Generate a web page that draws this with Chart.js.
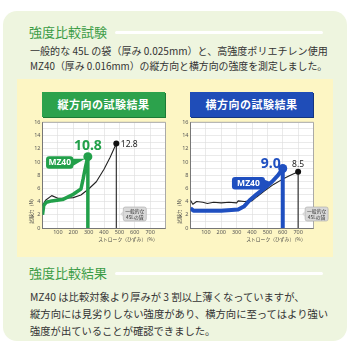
<!DOCTYPE html>
<html lang="ja">
<head>
<meta charset="utf-8">
<script src="https://cdn.jsdelivr.net/npm/chart.js@4"></script>
<style>
  html, body { margin: 0; padding: 0; width: 350px; height: 350px; overflow: hidden; background: #fff;
    font-family: "Noto Sans CJK JP", sans-serif; }
  .abs { position: absolute; }
  #panel { left: 3px; top: 11px; width: 344px; height: 330px; background: #eef5df; border-radius: 14px; }
  .ttl { color: #3b9c46; font-size: 13px; line-height: 16px; height: 16px; white-space: nowrap; left: 29px; }
  .rule { height: 3px; background: #fff; border-radius: 2px; left: 115px; width: 208px; }
  .txt { color: #333; white-space: nowrap; left: 30px; line-height: 14px; height: 14px; }
  .p1 { font-size: 10.6px; }
  .p2 { font-size: 10.3px; }
  #yellow { left: 17px; top: 79px; width: 316px; height: 178px; background: #fdf6c4; }
  .head { top: 92px; width: 123px; height: 25px; line-height: 25px; color: #fff; font-weight: bold;
    font-size: 11px; text-align: center; letter-spacing: 0.5px; }
  #headL { left: 42px; background: #2ca24c; box-shadow: 1px 1px 0 #1c7a35; }
  #headR { left: 190px; background: #1f4db8; box-shadow: 1px 1px 0 #14357f; }
  canvas { position: absolute; top: 117px; }
</style>
</head>
<body>
<div id="panel" class="abs"></div>
<div class="abs ttl" style="top:24px">強度比較試験</div>
<div class="abs rule" style="top:31px"></div>
<div class="abs txt p1" data-w="298" style="top:44px">一般的な 45L の袋（厚み 0.025mm）と、高強度ポリエチレン使用</div>
<div class="abs txt p1" data-w="298" style="top:59px">MZ40（厚み 0.016mm）の縦方向と横方向の強度を測定しました。</div>

<div id="yellow" class="abs"></div>
<div id="headL" class="abs head">縦方向の試験結果</div>
<div id="headR" class="abs head">横方向の試験結果</div>
<canvas id="chartL" width="165" height="130" style="left:20px"></canvas>
<canvas id="chartR" width="165" height="130" style="left:168px"></canvas>

<div class="abs ttl" style="top:265px">強度比較結果</div>
<div class="abs rule" style="top:272px"></div>
<div class="abs txt p2" style="top:290px">MZ40 は比較対象より厚みが 3 割以上薄くなっていますが、</div>
<div class="abs txt p2" data-w="298" style="top:307px">縦方向には見劣りしない強度があり、横方向に至ってはより強い</div>
<div class="abs txt p2" style="top:324px">強度が出ていることが確認できました。</div>

<script>
// ---------- Data ----------
const xLabelsShown = [100, 200, 300, 400, 500, 600, 700];
const yLabelsShown = [0, 2, 4, 6, 8, 10, 12, 14, 16];

// 縦方向 (MZ40 / 一般的な45Lの袋)
const longMzX  = [0, 8, 25, 60, 130, 200, 250, 265, 280, 295, 295];
const longMzY  = [2.0, 3.4, 3.9, 4.1, 4.3, 5.1, 5.9, 7.5, 9.3, 10.8, 0];
const longStdX = [0, 20, 60, 100, 150, 200, 250, 300, 350, 400, 440, 480, 480];
const longStdY = [3.4, 4.2, 4.9, 4.5, 4.5, 4.6, 5.0, 5.9, 7.0, 8.9, 10.7, 12.8, 0];

// 横方向
const transMzX  = [0, 20, 80, 200, 310, 350, 385, 430, 480, 530, 570, 600, 600];
const transMzY  = [3.0, 2.6, 2.6, 2.6, 2.8, 3.3, 4.2, 5.1, 6.0, 7.0, 8.0, 9.0, 0];
const transStdX = [0, 15, 40, 80, 110, 150, 200, 250, 300, 310, 350, 400, 430, 480, 540, 600, 650, 700, 700];
const transStdY = [4.2, 3.6, 4.0, 3.9, 3.7, 3.9, 3.8, 3.9, 3.8, 4.1, 4.0, 4.1, 4.7, 5.6, 6.6, 7.4, 8.0, 8.5, 0];

// ---------- Text fitting ----------
document.querySelectorAll('[data-w]').forEach(el => {
  const fs = parseFloat(getComputedStyle(el).fontSize);
  el.style.fontSize = (fs * Number(el.dataset.w) / el.scrollWidth).toFixed(2) + 'px';
});

// ---------- Helpers ----------
function pts(xs, ys) { return xs.map((x, i) => ({ x, y: ys[i] })); }
function peakIndex(ys) { return ys.indexOf(Math.max(...ys)); }

function drawNotes(chart, cfg) {
  const ctx = chart.ctx, xs = chart.scales.x, ys = chart.scales.y, a = chart.chartArea;
  const mp = peakIndex(cfg.mzY), sp = peakIndex(cfg.stdY);
  const mx = xs.getPixelForValue(cfg.mzX[mp]), my = ys.getPixelForValue(cfg.mzY[mp]);
  const sx = xs.getPixelForValue(cfg.stdX[sp]), sy = ys.getPixelForValue(cfg.stdY[sp]);
  ctx.save();
  ctx.textAlign = 'center';
  ctx.textBaseline = 'middle';

  // peak values
  ctx.fillStyle = cfg.color;
  ctx.font = 'bold 14px "Noto Sans", sans-serif';
  ctx.fillText(cfg.mzY[mp].toFixed(1), mx + cfg.valDx, my + cfg.valDy);
  ctx.fillStyle = '#222';
  ctx.font = '8.5px "Noto Sans", sans-serif';
  ctx.textAlign = cfg.stdAlign;
  ctx.fillText(cfg.stdY[sp].toFixed(1), sx + cfg.stdDx, sy + cfg.stdDy);

  // MZ40 callout
  const bx = mx + cfg.boxDx, by = my + cfg.boxDy, bw = cfg.boxW, bh = 12.5;
  ctx.fillStyle = cfg.color;
  ctx.beginPath(); ctx.roundRect(bx, by, bw, bh, 3); ctx.fill();
  ctx.beginPath();
  ctx.moveTo(bx + bw - 1, by + 2.5);
  ctx.lineTo(bx + bw + cfg.tipDx, by + bh / 2 + cfg.tipDy);
  ctx.lineTo(bx + bw - 1, by + bh - 2.5);
  ctx.fill();
  ctx.fillStyle = '#fff';
  ctx.textAlign = 'center';
  ctx.font = 'bold 8.5px "Noto Sans", sans-serif';
  ctx.fillText('MZ40', bx + bw / 2, by + bh / 2 + 0.5);

  // 一般的な45Lの袋 note
  const gx = sx + 7, gy = a.bottom - 21, gw = 23, gh = 14;
  ctx.fillStyle = '#d9d9d9';
  ctx.strokeStyle = '#aaa';
  ctx.lineWidth = 0.6;
  ctx.beginPath(); ctx.roundRect(gx, gy, gw, gh, 2); ctx.fill(); ctx.stroke();
  ctx.beginPath(); ctx.moveTo(gx, gy + 4); ctx.lineTo(gx - 3, gy + 7); ctx.lineTo(gx, gy + 10); ctx.fill();
  ctx.fillStyle = '#333';
  ctx.font = '4.8px "Noto Sans CJK JP"';
  ctx.fillText('一般的な', gx + gw / 2, gy + 4.5);
  ctx.fillText('45Lの袋', gx + gw / 2, gy + 10);

  // axis titles
  ctx.fillStyle = '#444';
  ctx.font = '4.8px "Noto Sans CJK JP"';
  ctx.fillText('ストローク（ひずみ）（%）', a.left + 85.5, a.bottom + 11.5);
  ctx.translate(a.left - 11.5, a.bottom - 18);
  ctx.rotate(-Math.PI / 2);
  ctx.fillText('試験力（N）', 0, 0);
  ctx.restore();
}

function makeChart(id, cfg) {
  const mp = peakIndex(cfg.mzY), sp = peakIndex(cfg.stdY);
  return new Chart(document.getElementById(id), {
    type: 'line',
    data: {
      datasets: [{
        data: pts(cfg.mzX, cfg.mzY),
        borderColor: cfg.color,
        borderWidth: cfg.width,
        borderJoinStyle: 'round',
        borderCapStyle: 'butt',
        pointRadius: c => c.dataIndex === mp ? 4.5 : 0,
        pointBackgroundColor: cfg.color,
        pointBorderWidth: 0,
        tension: 0
      }, {
        data: pts(cfg.stdX, cfg.stdY),
        borderColor: '#222',
        borderWidth: 1.1,
        borderJoinStyle: 'round',
        pointRadius: c => c.dataIndex === sp ? 3 : 0,
        pointBackgroundColor: '#111',
        pointBorderWidth: 0,
        tension: 0
      }]
    },
    options: {
      responsive: false,
      animation: false,
      devicePixelRatio: 1,
      layout: { padding: { left: 0, top: 3.5, right: 19.5, bottom: 0 } },
      plugins: { legend: { display: false }, tooltip: { enabled: false } },
      scales: {
        x: {
          type: 'linear', min: 0, max: 800,
          grid: { color: '#dcdcdc', lineWidth: 0.6, drawTicks: false },
          border: { color: '#777', width: 1 },
          ticks: {
            stepSize: 100, autoSkip: false, maxRotation: 0, padding: 1.5,
            color: '#555', font: { size: 5.5 },
            callback: v => xLabelsShown.includes(v) ? v : ''
          },
          afterFit: s => { s.height = 19; }
        },
        y: {
          min: 0, max: 16,
          grid: { color: '#dcdcdc', lineWidth: 0.6, drawTicks: false },
          border: { color: '#777', width: 1 },
          ticks: {
            stepSize: 1, autoSkip: false, padding: 2,
            color: '#555', font: { size: 5.5 },
            callback: v => yLabelsShown.includes(v) ? v : ''
          },
          afterFit: s => { s.width = 22.5; }
        }
      }
    },
    plugins: [{
      id: 'plotBox',
      beforeDraw(chart) {
        const a = chart.chartArea, ctx = chart.ctx;
        ctx.save();
        ctx.fillStyle = '#fff';
        ctx.fillRect(a.left, a.top, a.right - a.left, a.bottom - a.top);
        ctx.restore();
      },
      beforeDatasetsDraw(chart) {
        const a = chart.chartArea, ctx = chart.ctx;
        ctx.save();
        ctx.strokeStyle = '#9a9a9a';
        ctx.lineWidth = 0.8;
        ctx.beginPath();
        ctx.moveTo(a.left, a.top); ctx.lineTo(a.right, a.top); ctx.lineTo(a.right, a.bottom);
        ctx.stroke();
        ctx.restore();
      },
      afterDraw(chart) { drawNotes(chart, cfg); }
    }]
  });
}

Chart.defaults.font.family = '"Noto Sans", sans-serif';

makeChart('chartL', {
  mzX: longMzX, mzY: longMzY, stdX: longStdX, stdY: longStdY,
  color: '#22a04a', width: 3.5,
  valDx: 0, valDy: -10.5,
  stdDx: 4.5, stdDy: 1, stdAlign: 'left',
  boxDx: -41.8, boxDy: -0.4, boxW: 27.3, tipDx: 11.7, tipDy: -3.8
});

makeChart('chartR', {
  mzX: transMzX, mzY: transMzY, stdX: transStdX, stdY: transStdY,
  color: '#1f4fc0', width: 4,
  valDx: -12, valDy: -5,
  stdDx: 0, stdDy: -7.5, stdAlign: 'center',
  boxDx: -50.8, boxDy: 8.5, boxW: 33, tipDx: 6, tipDy: -1
});
</script>
</body>
</html>
